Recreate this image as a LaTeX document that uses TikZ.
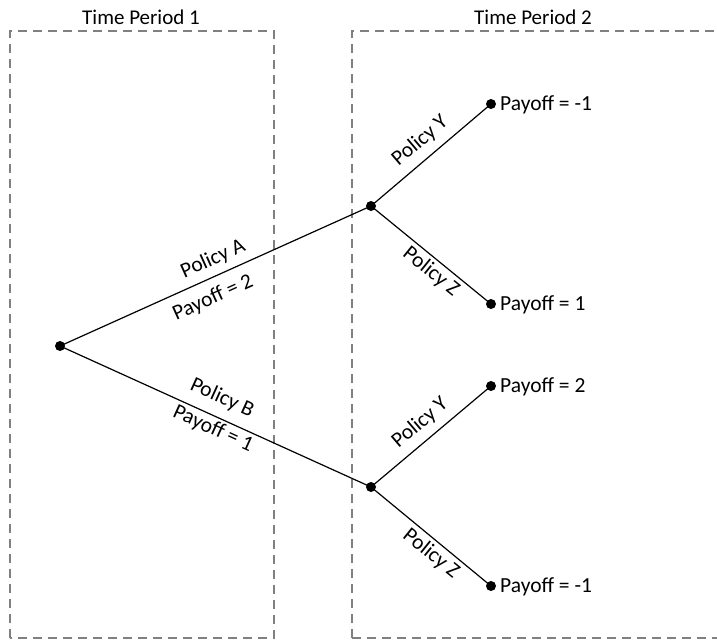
\documentclass[tikz,border=0pt]{standalone}
\usepackage{fontspec}
\setmainfont{Carlito}
\begin{document}
\begin{tikzpicture}[x=1pt,y=-1pt,
  dot/.style={circle,fill=black,inner sep=0pt,minimum size=10pt},
  period/.style={draw=black!50,line width=1.3pt,dash pattern=on 9pt off 6pt},
  edge/.style={line width=1.2pt},
  lbl/.style={font=\fontsize{21.5}{24}\selectfont,inner sep=0pt},
  ttl/.style={font=\fontsize{21}{24}\selectfont,inner sep=0pt}]
\useasboundingbox (0,0) rectangle (717,640);
% period boxes
\draw[period] (10,638) -- (10,31) -- (274,31) -- (274,638) -- cycle;
\draw[period] (352,638) -- (352,31) -- (720,31);
\draw[period] (352,638) -- (720,638);
\node[ttl] (t1) at (141,17) {Time Period 1};
\node[ttl] (t2) at (533,17) {Time Period 2};
% nodes
\node[dot] (r) at (60,346) {};
\node[dot] (a) at (371,206) {};
\node[dot] (b) at (371,487) {};
\node[dot] (ay) at (491,104) {};
\node[dot] (az) at (491,304) {};
\node[dot] (by) at (491,386) {};
\node[dot] (bz) at (491,586) {};
% edges
\draw[edge] (r.center) -- (a.center);
\draw[edge] (r.center) -- (b.center);
\draw[edge] (a.center) -- (ay.center);
\draw[edge] (a.center) -- (az.center);
\draw[edge] (b.center) -- (by.center);
\draw[edge] (b.center) -- (bz.center);
% edge labels
\node[lbl,rotate=24.2] (la) at (213,259) {Policy A};
\node[lbl,rotate=24.2] (pa) at (213,298) {Payoff = 2};
\node[lbl,rotate=-24.4] (lb) at (222,398) {Policy B};
\node[lbl,rotate=-24.4] (pb) at (213,429) {Payoff = 1};
\node[lbl,rotate=40.4] (lay) at (420,141) {Policy Y};
\node[lbl,rotate=-39] (laz) at (431,272) {Policy Z};
\node[lbl,rotate=40.4] (lby) at (420,423) {Policy Y};
\node[lbl,rotate=-39] (lbz) at (431,554) {Policy Z};
% payoffs
\node[lbl,anchor=west] (vay) at (500,105) {Payoff = -1};
\node[lbl,anchor=west] (vaz) at (500,305) {Payoff = 1};
\node[lbl,anchor=west] (vby) at (500,387) {Payoff = 2};
\node[lbl,anchor=west] (vbz) at (500,587) {Payoff = -1};
\end{tikzpicture}
\end{document}
